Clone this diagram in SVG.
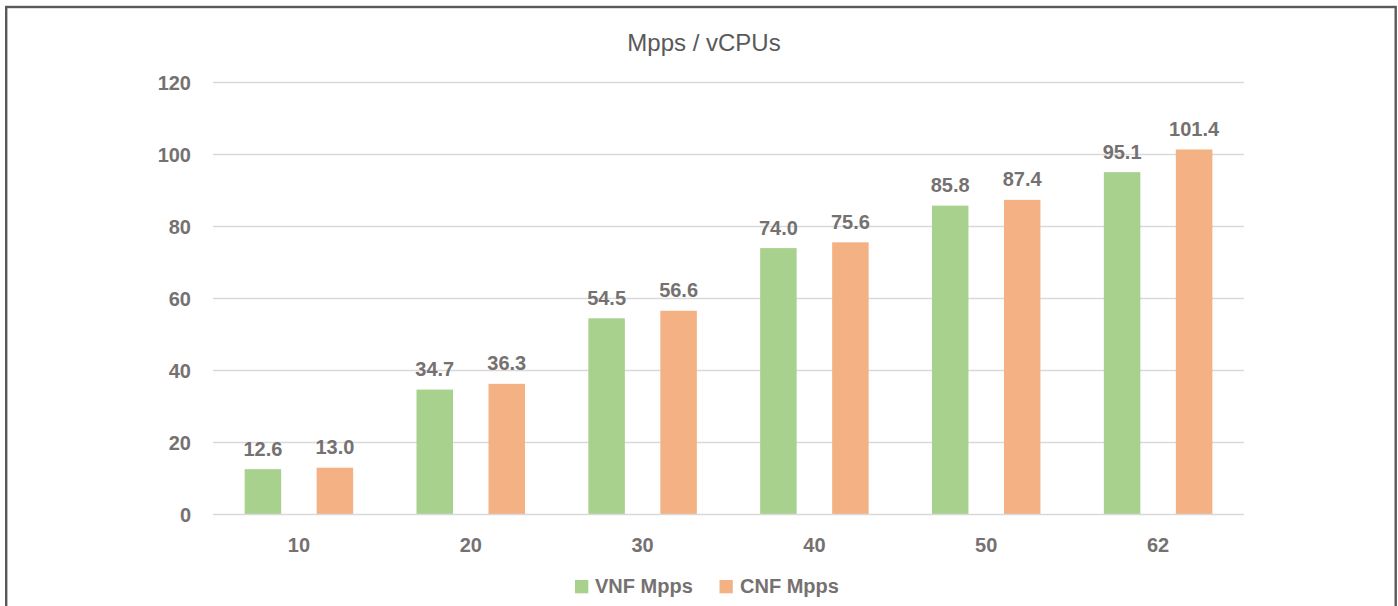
<svg xmlns="http://www.w3.org/2000/svg" width="1398" height="606" viewBox="0 0 1398 606">
<style>
.t{font-family:"Liberation Sans",Arial,sans-serif;fill:#767171;font-weight:bold;font-size:20px}
.title{font-family:"Liberation Sans",Arial,sans-serif;fill:#595959;font-size:24px}
.grid{stroke:#D9D9D9;stroke-width:1.3}
.v{fill:#A9D18E}
.c{fill:#F4B183}
</style>
<rect x="0" y="0" width="1398" height="606" fill="#ffffff"/>
<rect x="6.2" y="7" width="1389.5" height="640" fill="none" stroke="#595959" stroke-width="2.4"/>
<text class="title" x="704" y="51" text-anchor="middle">Mpps / vCPUs</text>
<g id="gridlines">
<line class="grid" x1="213" y1="82.5" x2="1244" y2="82.5"/>
<line class="grid" x1="213" y1="154.5" x2="1244" y2="154.5"/>
<line class="grid" x1="213" y1="226.5" x2="1244" y2="226.5"/>
<line class="grid" x1="213" y1="298.5" x2="1244" y2="298.5"/>
<line class="grid" x1="213" y1="370.5" x2="1244" y2="370.5"/>
<line class="grid" x1="213" y1="442.5" x2="1244" y2="442.5"/>
</g>
<g id="y-axis" text-anchor="end">
<text class="t" x="191" y="90">120</text>
<text class="t" x="191" y="162">100</text>
<text class="t" x="191" y="234">80</text>
<text class="t" x="191" y="306">60</text>
<text class="t" x="191" y="378">40</text>
<text class="t" x="191" y="450">20</text>
<text class="t" x="191" y="522">0</text>
</g>
<g id="cat-10">
<rect class="v" x="244.65" y="469.14" width="36.5" height="45.36"/>
<rect class="c" x="316.65" y="467.7" width="36.5" height="46.8"/>
<text class="t" x="262.9" y="455.6" text-anchor="middle">12.6</text>
<text class="t" x="334.9" y="454.2" text-anchor="middle">13.0</text>
<text class="t" x="298.9" y="552" text-anchor="middle">10</text>
</g>
<g id="cat-20">
<rect class="v" x="416.5" y="389.58" width="36.5" height="124.92"/>
<rect class="c" x="488.5" y="383.82" width="36.5" height="130.68"/>
<text class="t" x="434.75" y="376.1" text-anchor="middle">34.7</text>
<text class="t" x="506.75" y="370.3" text-anchor="middle">36.3</text>
<text class="t" x="470.75" y="552" text-anchor="middle">20</text>
</g>
<g id="cat-30">
<rect class="v" x="588.35" y="318.3" width="36.5" height="196.2"/>
<rect class="c" x="660.35" y="310.74" width="36.5" height="203.76"/>
<text class="t" x="606.6" y="304.8" text-anchor="middle">54.5</text>
<text class="t" x="678.6" y="297.2" text-anchor="middle">56.6</text>
<text class="t" x="642.6" y="552" text-anchor="middle">30</text>
</g>
<g id="cat-40">
<rect class="v" x="760.15" y="248.1" width="36.5" height="266.4"/>
<rect class="c" x="832.15" y="242.34" width="36.5" height="272.16"/>
<text class="t" x="778.4" y="234.6" text-anchor="middle">74.0</text>
<text class="t" x="850.4" y="228.8" text-anchor="middle">75.6</text>
<text class="t" x="814.4" y="552" text-anchor="middle">40</text>
</g>
<g id="cat-50">
<rect class="v" x="931.95" y="205.62" width="36.5" height="308.88"/>
<rect class="c" x="1003.95" y="199.86" width="36.5" height="314.64"/>
<text class="t" x="950.2" y="192.1" text-anchor="middle">85.8</text>
<text class="t" x="1022.2" y="186.4" text-anchor="middle">87.4</text>
<text class="t" x="986.2" y="552" text-anchor="middle">50</text>
</g>
<g id="cat-62">
<rect class="v" x="1103.85" y="172.14" width="36.5" height="342.36"/>
<rect class="c" x="1175.85" y="149.46" width="36.5" height="365.04"/>
<text class="t" x="1122.1" y="158.6" text-anchor="middle">95.1</text>
<text class="t" x="1194.1" y="136" text-anchor="middle">101.4</text>
<text class="t" x="1158.1" y="552" text-anchor="middle">62</text>
</g>
<line id="x-axis" class="grid" x1="213" y1="514.5" x2="1244" y2="514.5"/>
<g id="legend">
<rect class="v" x="575" y="580" width="13.3" height="13.3"/>
<text class="t" x="595" y="593.3">VNF Mpps</text>
<rect class="c" x="719.5" y="580" width="13.3" height="13.3"/>
<text class="t" x="740" y="593.3">CNF Mpps</text>
</g>
</svg>
